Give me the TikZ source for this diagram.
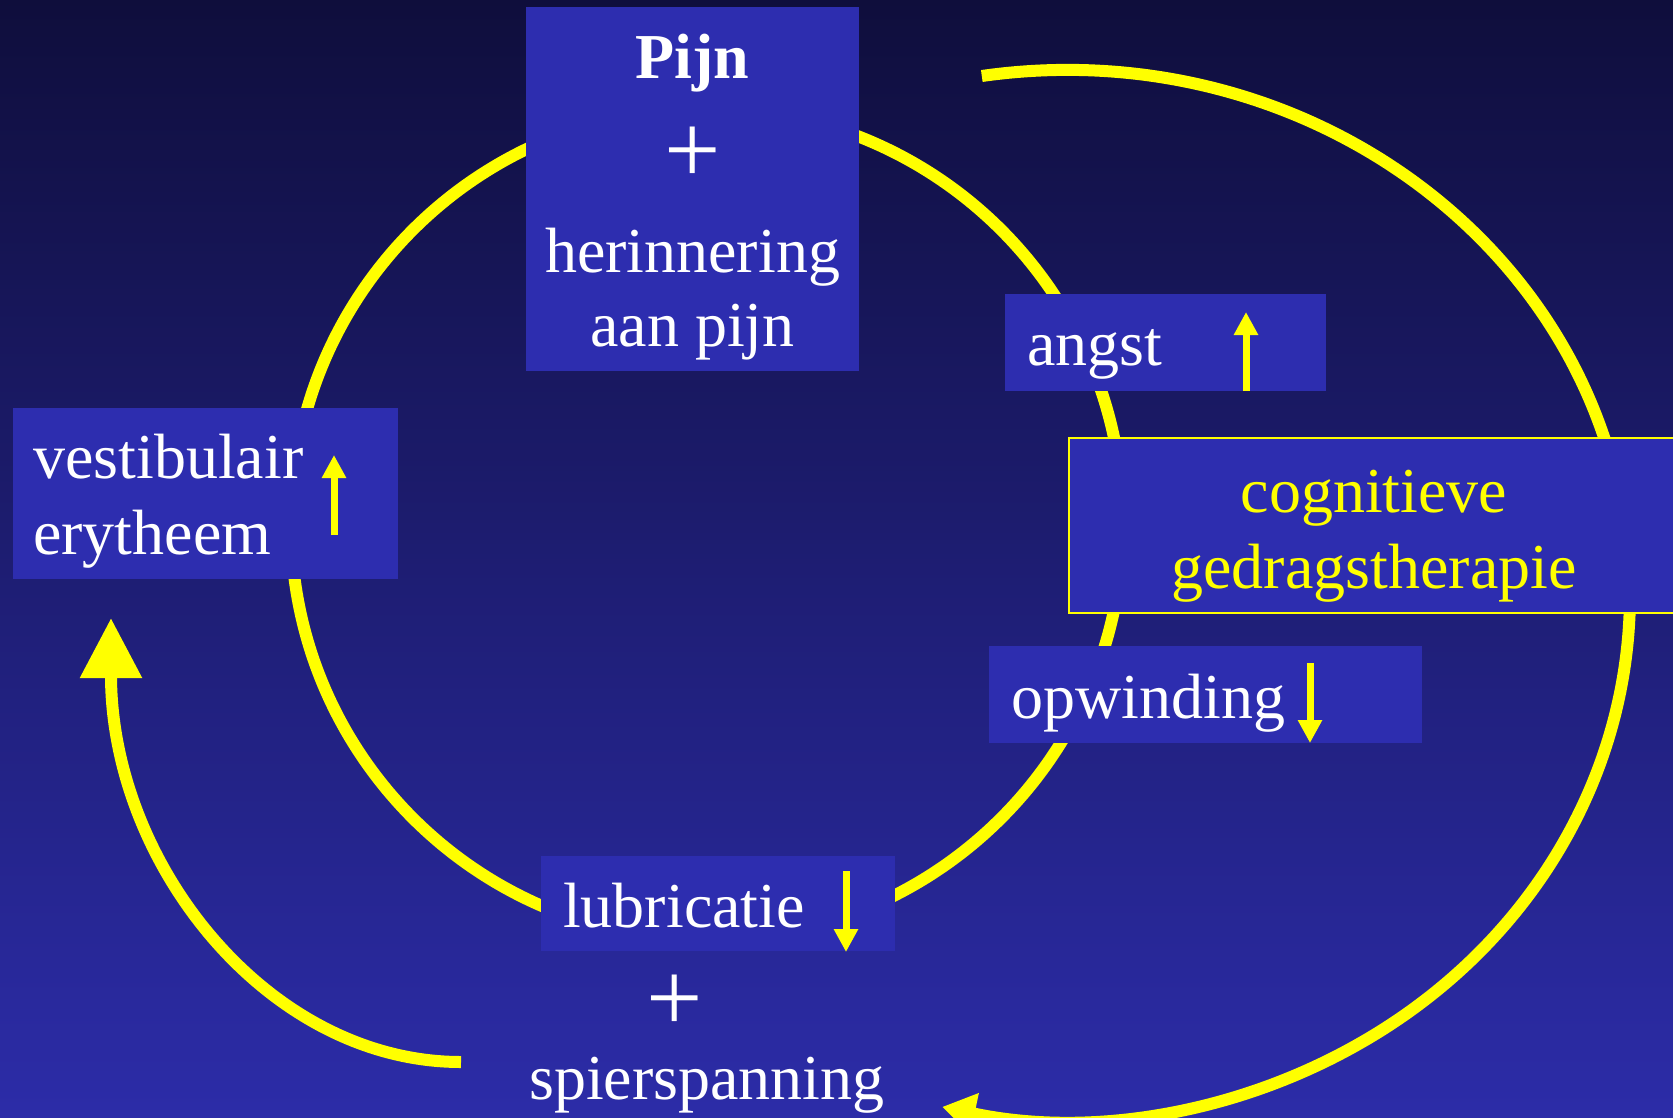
\documentclass[tikz,border=0pt]{standalone}
\usepackage{fontspec}
\setmainfont{Liberation Serif}
\usetikzlibrary{arrows.meta}
\definecolor{bgtop}{RGB}{15,14,60}
\definecolor{bgmid}{RGB}{34,34,135}
\definecolor{bgbot}{RGB}{44,44,168}
\definecolor{boxblue}{RGB}{45,45,175}
\definecolor{ylw}{RGB}{255,255,0}

\begin{document}
\begin{tikzpicture}[x=1pt,y=1pt,
  panel/.style={fill=boxblue, draw=none, inner sep=0pt, outer sep=0pt, anchor=north west},
  txt/.style={text=white, inner sep=0pt, font=\fontsize{64pt}{77pt}\selectfont},
  bigplus/.style={text=white, inner sep=0pt, font=\fontsize{100pt}{110pt}\selectfont},
  bigline/.style={draw=ylw, line width=12pt},
  updown/.style={draw=ylw, line width=7pt, -{Triangle[length=23pt,width=23pt]}}]

\useasboundingbox (0,0) rectangle (1673,-1117);
\clip (0,0) rectangle (1673,-1117);

% background gradient
\shade[top color=bgtop, middle color=bgmid, bottom color=bgbot] (0,0) rectangle (1673,-1117);

% inner cycle
\draw[bigline] (707,-524) circle[radius=416];

% outer loop on the right, ending at the bottom
\coordinate (rstart) at (981.8,-76);
\draw[bigline, -{Triangle[length=33pt,width=40pt]}] (rstart)
  arc[start angle=98.7, end angle=-102.8, x radius=563, y radius=525];

% outer loop on the left, ending at the vestibulum box
\coordinate (lstart) at (461,-1062);
\draw[bigline, -{Triangle[length=60pt,width=59pt]}] (lstart)
  arc[start angle=270, end angle=180, x radius=350, y radius=444];

% panels
\node[panel, minimum width=333pt, minimum height=364pt] (pijnbox) at (526,-7) {};
\node[panel, minimum width=385pt, minimum height=171pt] (vestbox) at (13,-408) {};
\node[panel, minimum width=321pt, minimum height=97pt] (angstbox) at (1005,-294) {};
\node[panel, draw=ylw, line width=2pt, minimum width=640pt, minimum height=175pt] (cogbox) at (1069,-438) {};
\node[panel, minimum width=433pt, minimum height=97pt] (opwbox) at (989,-646) {};
\node[panel, minimum width=354pt, minimum height=95pt] (lubbox) at (541,-856) {};

% texts
\node[txt, anchor=base, font=\fontsize{64pt}{77pt}\selectfont\bfseries] (pijn) at (692.5,-78) {Pijn};
\node[bigplus] (plusa) at (692.5,-155) {+};
\node[txt, anchor=base] (herin) at (692.5,-272) {herinnering};
\node[txt, anchor=base] (aanpijn) at (692.5,-346) {aan pijn};

\node[txt, anchor=base west] (vest) at (33,-478) {vestibulair};
\node[txt, anchor=base west] (eryt) at (33,-554) {erytheem};

\node[txt, anchor=base west] (angst) at (1027,-365) {angst};

\node[txt, anchor=base, text=ylw] (cog) at (1374,-512) {cognitieve};
\node[txt, anchor=base, text=ylw] (gedrag) at (1374,-588) {gedragstherapie};

\node[txt, anchor=base west] (opw) at (1011,-718) {opwinding};

\node[txt, anchor=base west] (lub) at (563,-927) {lubricatie};
\node[bigplus] (plusb) at (675,-1003) {+};
\node[txt, anchor=base] (spier) at (707,-1099) {spierspanning};

% small up/down arrows
\coordinate (va) at (334,-535); \coordinate (vb) at (334,-455);
\draw[updown] (va) -- (vb);
\coordinate (aa) at (1246,-391); \coordinate (ab) at (1246,-312);
\draw[updown] (aa) -- (ab);
\coordinate (oa) at (1310,-663); \coordinate (ob) at (1310,-743);
\draw[updown] (oa) -- (ob);
\coordinate (la) at (846,-871); \coordinate (lb) at (846,-952);
\draw[updown] (la) -- (lb);
\end{tikzpicture}
\end{document}
